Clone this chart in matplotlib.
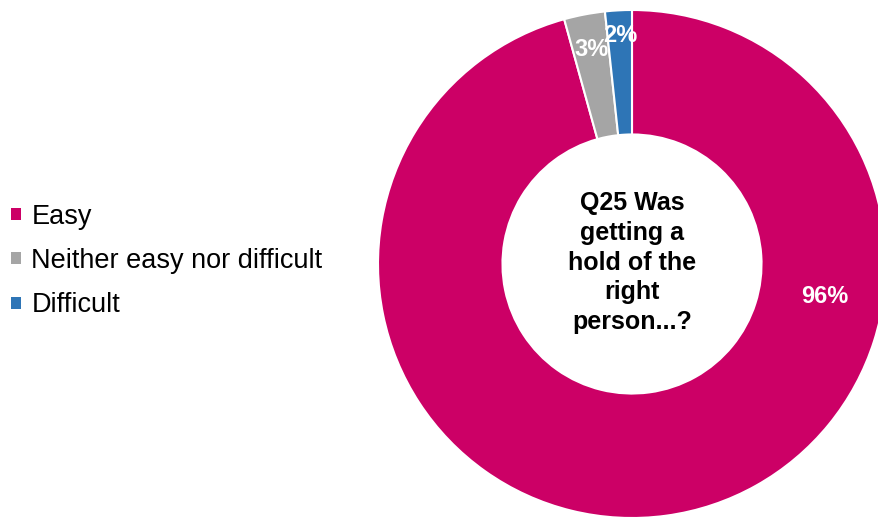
import math
import matplotlib.pyplot as plt
from matplotlib.patches import Patch

plt.rcParams['font.family'] = ['Liberation Sans', 'DejaVu Sans']

# data
categories = ["Easy", "Neither easy nor difficult", "Difficult"]
shares = [95.7, 2.6, 1.7]
colors = ["#CC0066", "#A5A5A5", "#2E75B6"]
center_text = "Q25 Was\ngetting a\nhold of the\nright\nperson...?"

fig = plt.figure(figsize=(8.79, 5.19), dpi=100)

# pie axes: centre about (632, 264) px, radius about 254 px
ax = fig.add_axes([378 / 879, 1 / 519, 508 / 879, 508 / 519])

wedges, _ = ax.pie(shares, colors=colors, startangle=90, counterclock=False,
                   radius=1, wedgeprops=dict(width=0.49, edgecolor="white", linewidth=1.5))
for w in wedges:
    w.set_clip_on(False)
ax.set_xlim(-1, 1)
ax.set_ylim(-1, 1)
ax.set_aspect("equal")
ax.axis("off")

# percentage labels: big slice label sits on the right, small ones further out
label_pos = [(0.77, -9.5), (0.86, None), (0.90, None)]
for w, val, (r, ang) in zip(wedges, shares, label_pos):
    if ang is None:
        ang = (w.theta1 + w.theta2) / 2
    a = math.radians(ang)
    ax.text(r * math.cos(a), r * math.sin(a), f"{round(val)}%",
            ha="center", va="center", color="white", fontsize=17, fontweight="bold")

ax.text(0, 0.005, center_text, ha="center", va="center", fontsize=18,
        fontweight="bold", color="black", linespacing=1.3)

handles = [Patch(facecolor=c, edgecolor="none") for c in colors]
fig.legend(handles, categories, loc="center left", bbox_to_anchor=(0.0, 0.497),
           frameon=False, fontsize=19.5, handlelength=0.36, handleheight=0.3,
           handletextpad=0.4, labelspacing=0.68, borderaxespad=0.0, borderpad=0.4)

fig.savefig("out.png", dpi=100)
